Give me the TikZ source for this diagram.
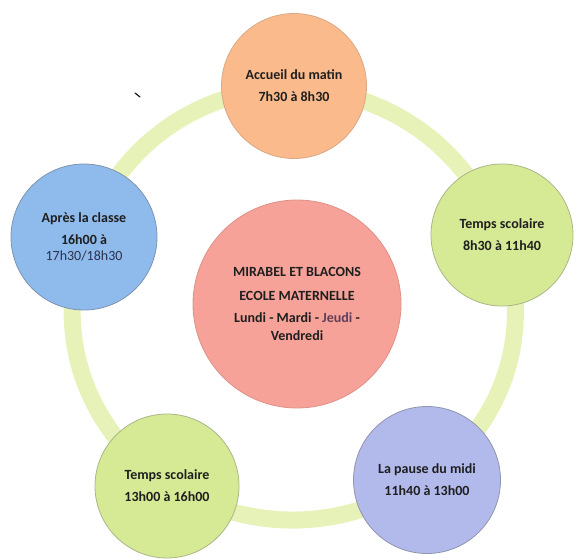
\documentclass[tikz,border=0pt]{standalone}
\usepackage{fontspec}
\setmainfont{Carlito}
\usepackage{xcolor}
\usepackage{tikz}
\usetikzlibrary{backgrounds}
\definecolor{ringcolor}{RGB}{231,242,184}
\definecolor{morning}{RGB}{250,186,140}
\definecolor{school}{RGB}{214,234,150}
\definecolor{evening}{RGB}{142,186,236}
\definecolor{lunch}{RGB}{178,186,236}
\definecolor{centre}{RGB}{246,162,152}
\definecolor{jeudi}{RGB}{96,62,92}
\definecolor{late}{RGB}{44,50,78}
\colorlet{txt}{black!88}
\tikzstyle{bubble}=[circle,inner sep=0pt,align=center,line width=.8pt,text=txt,
  font=\fontsize{14}{17}\selectfont\bfseries]
\tikzstyle{ring}=[line width=17pt,draw=ringcolor]

\begin{document}
\begin{tikzpicture}[x=1pt,y=1pt]
	\useasboundingbox (0,0) rectangle (579,-560);
	\node[bubble,minimum size=145pt,fill=morning,draw=morning!85!black!90] (acc) at (294,-86)
		{Accueil du matin\\[5pt]7h30 à 8h30};
	\node[bubble,minimum size=142pt,fill=school,draw=school!70!black!80] (tsm) at (502,-235)
		{Temps scolaire\\[5pt]8h30 à 11h40};
	\node[bubble,minimum size=147pt,fill=lunch,draw=lunch!65!black!80] (midi) at (427,-480)
		{La pause du midi\\[5pt]11h40 à 13h00};
	\node[bubble,minimum size=144pt,fill=school,draw=school!70!black!80] (tsa) at (167,-486)
		{Temps scolaire\\[5pt]13h00 à 16h00};
	\node[bubble,minimum size=146pt,fill=evening,draw=evening!65!black!80] (apres) at (84,-237)
		{Après la classe\\[5pt]16h00 à\\[-1pt]{\mdseries\color{late}17h30/18h30}};
	\node[bubble,minimum size=208pt,fill=centre,draw=centre!90!black] (ecole) at (297,-304)
		{MIRABEL ET BLACONS\\[7pt]ECOLE MATERNELLE\\[5pt]Lundi - Mardi - \textcolor{jeudi}{Jeudi} -\\[1pt]Vendredi};
	\begin{scope}[on background layer]
		\draw[ring] (acc.center) to[bend left=30] (tsm.center);
		\draw[ring] (tsm.center) to[bend left=36] (midi.center);
		\draw[ring] (midi.center) to[bend left=29] (tsa.center);
		\draw[ring] (tsa.center) to[bend left=36] (apres.center);
		\draw[ring] (apres.center) to[bend left=32] (acc.center);
	\end{scope}
	\draw[line width=1.2pt,line cap=round,txt] (135,-93) -- (140,-97);
\end{tikzpicture}
\end{document}
